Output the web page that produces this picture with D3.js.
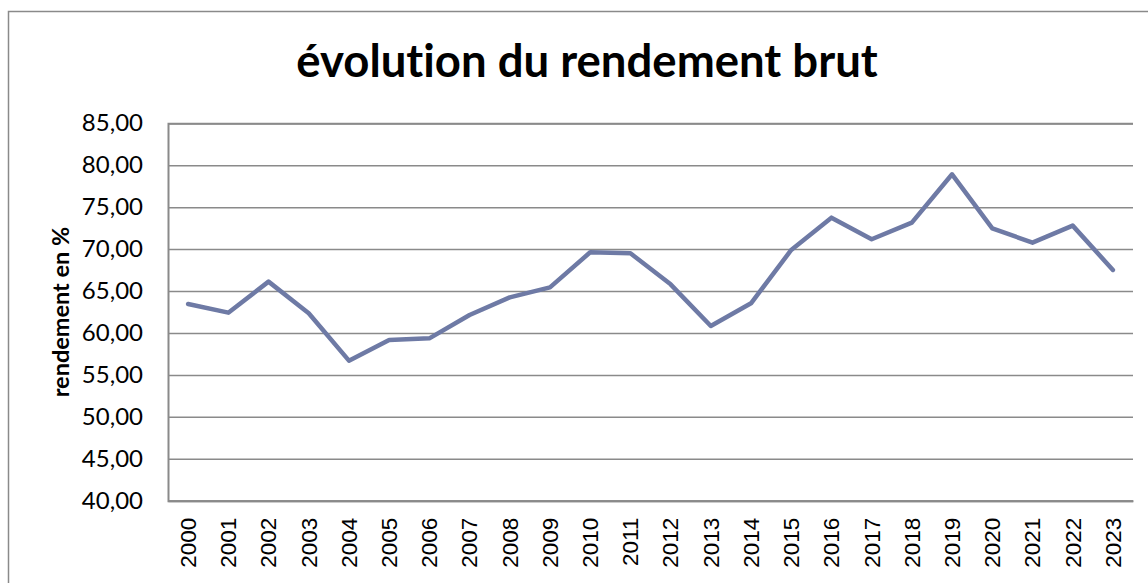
<!DOCTYPE html>
<html>
<head>
<meta charset="utf-8">
<script src="https://cdn.jsdelivr.net/npm/d3@7"></script>
<style>
  html, body { margin: 0; padding: 0; background: #fff; }
  svg { display: block; }
  text { font-variant-ligatures: none; }
</style>
</head>
<body>
<svg id="chart" width="1148" height="583"></svg>
<script>
const years = ["2000","2001","2002","2003","2004","2005","2006","2007","2008","2009","2010","2011",
               "2012","2013","2014","2015","2016","2017","2018","2019","2020","2021","2022","2023"];
const rendement = [63.45, 62.42, 66.12, 62.35, 56.70, 59.16, 59.36, 62.14, 64.25, 65.44, 69.62, 69.50,
                   65.80, 60.83, 63.54, 69.90, 73.75, 71.17, 73.15, 78.92, 72.48, 70.77, 72.80, 67.51];
const yTicks = [40, 45, 50, 55, 60, 65, 70, 75, 80, 85];
const title = "évolution du rendement brut";
const yTitle = "rendement en %";

const W = 1148, H = 583;
const m = { left: 168, right: 1133, top: 123.3, bottom: 500.7 };
const svg = d3.select("#chart");

// outer border
svg.append("rect")
  .attr("x", 8.5).attr("y", 11.5).attr("width", 1160).attr("height", 600)
  .attr("fill", "none").attr("stroke", "#8a8a8a").attr("stroke-width", 1.5);

const x = d3.scaleBand().domain(years).range([m.left, m.right]).padding(0);
const y = d3.scaleLinear().domain([40, 85]).range([m.bottom, m.top]);

// gridlines + y axis
const yAxis = d3.axisLeft(y).tickValues(yTicks)
  .tickSize(-(m.right - m.left)).tickPadding(25)
  .tickFormat(d => d3.format(".2f")(d).replace(".", ","));
const gy = svg.append("g").attr("transform", `translate(${m.left},0)`).call(yAxis);
gy.select(".domain").attr("stroke", "#8a8a8a").attr("stroke-width", 2);
gy.selectAll(".tick line").attr("stroke", "#8a8a8a").attr("stroke-width", 1.5);
gy.selectAll(".tick text")
  .attr("font-family", "Lato, 'Open Sans', sans-serif").attr("font-size", 24).attr("fill", "#000");

// x axis
const xAxis = d3.axisBottom(x).tickSize(0).tickPadding(0);
const gx = svg.append("g").attr("transform", `translate(0,${m.bottom})`).call(xAxis);
gx.select(".domain").attr("stroke", "#8a8a8a").attr("stroke-width", 2);
gx.selectAll(".tick text")
  .attr("font-family", "'Liberation Sans', Arial, sans-serif").attr("font-size", 22.5).attr("fill", "#000")
  .attr("text-anchor", "end").attr("dy", "0.35em")
  .attr("transform", "translate(0,17) rotate(-90)")
  .attr("x", 0).attr("y", 0);

// line
const line = d3.line()
  .x((d, i) => x(years[i]) + x.bandwidth() / 2)
  .y(d => y(d));
svg.append("path").datum(rendement)
  .attr("d", line).attr("fill", "none")
  .attr("stroke", "#6E7AA5").attr("stroke-width", 4.5)
  .attr("stroke-linejoin", "round").attr("stroke-linecap", "round");

// title
svg.append("text").attr("x", 587).attr("y", 77).attr("text-anchor", "middle")
  .attr("font-family", "Lato, 'Open Sans', sans-serif").attr("font-weight", "bold").attr("font-size", 45.5)
  .attr("fill", "#000").text(title);

// y title
svg.append("text")
  .attr("transform", `translate(69,${(m.top + m.bottom) / 2}) rotate(-90)`)
  .attr("text-anchor", "middle")
  .attr("font-family", "Lato, 'Open Sans', sans-serif").attr("font-weight", "bold").attr("font-size", 23.5)
  .attr("fill", "#000").text(yTitle);
</script>
</body>
</html>
